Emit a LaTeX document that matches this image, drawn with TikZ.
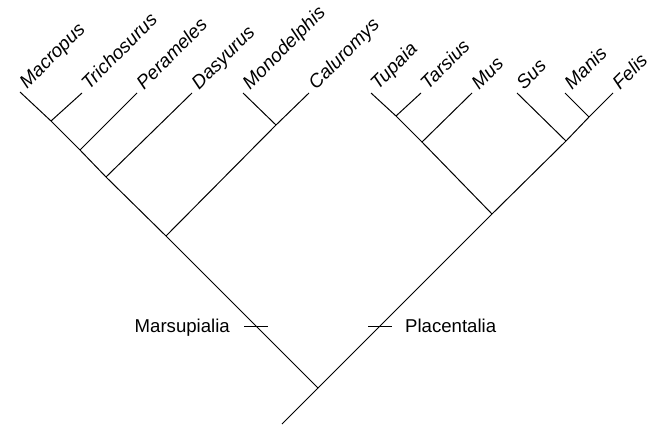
\documentclass[tikz,border=0pt]{standalone}
\usepackage{fontspec}
\setmainfont{Liberation Sans}
\usetikzlibrary{calc}
\begin{document}
\begin{tikzpicture}[x=1pt,y=1pt,
  branch/.style={line width=1pt},
  tick/.style={line width=1pt},
  leaf/.style={rotate=45, anchor=base west, inner sep=0pt, font=\fontsize{19}{22}\selectfont\itshape},
  cladelabel/.style={inner sep=0pt, font=\fontsize{18.6}{21}\selectfont}]
\useasboundingbox (0,0) rectangle (659,424);
% tips
\coordinate (Macropus) at (20,332);
\coordinate (Trichosurus) at (82,331);
\coordinate (Perameles) at (137,331);
\coordinate (Dasyurus) at (192,331);
\coordinate (Monodelphis) at (243,331);
\coordinate (Caluromys) at (309,331);
\coordinate (Tupaia) at (371,331);
\coordinate (Tarsius) at (421,331);
\coordinate (Mus) at (472,331);
\coordinate (Sus) at (517,331);
\coordinate (Manis) at (565,331);
\coordinate (Felis) at (613,331);
% internal nodes
\coordinate (base) at (282,0);
\coordinate (root) at (318,36);
\coordinate (j1) at (51,303);
\coordinate (j2) at (80,274);
\coordinate (j3) at (106,247);
\coordinate (j4) at (276,299);
\coordinate (j5) at (166,188);
\coordinate (j6) at (396,308);
\coordinate (j7) at (422,282);
\coordinate (j8) at (589,307);
\coordinate (j9) at (566,283);
\coordinate (j10) at (492,210);
% branches
\draw[branch] (base) -- (root);
\draw[branch] (root) -- (j5) -- (j3) -- (j2) -- (j1) -- (Macropus);
\draw[branch] (j1) -- (Trichosurus);
\draw[branch] (j2) -- (Perameles);
\draw[branch] (j3) -- (Dasyurus);
\draw[branch] (j5) -- (j4) -- (Caluromys);
\draw[branch] (j4) -- (Monodelphis);
\draw[branch] (root) -- (j10) -- (j9) -- (j8) -- (Felis);
\draw[branch] (j8) -- (Manis);
\draw[branch] (j9) -- (Sus);
\draw[branch] (j10) -- (j7) -- (Mus);
\draw[branch] (j7) -- (j6) -- (Tupaia);
\draw[branch] (j6) -- (Tarsius);
% ticks
\coordinate (mt1) at (244,98); \coordinate (mt2) at (268,98);
\coordinate (pt1) at (368,98); \coordinate (pt2) at (392,98);
\draw[tick] (mt1) -- (mt2);
\draw[tick] (pt1) -- (pt2);
\node[cladelabel, anchor=base east] (marsup) at (230,91.5) {Marsupialia};
\node[cladelabel, anchor=base west] (placent) at (405,91.5) {Placentalia};
% leaf labels
\foreach \t in {Macropus,Trichosurus,Perameles,Dasyurus,Monodelphis,Caluromys,Tupaia,Tarsius,Mus,Sus,Manis,Felis}
  \node[leaf] (l\t) at ($(\t)+(7,2.5)$) {\t};
\end{tikzpicture}
\end{document}
